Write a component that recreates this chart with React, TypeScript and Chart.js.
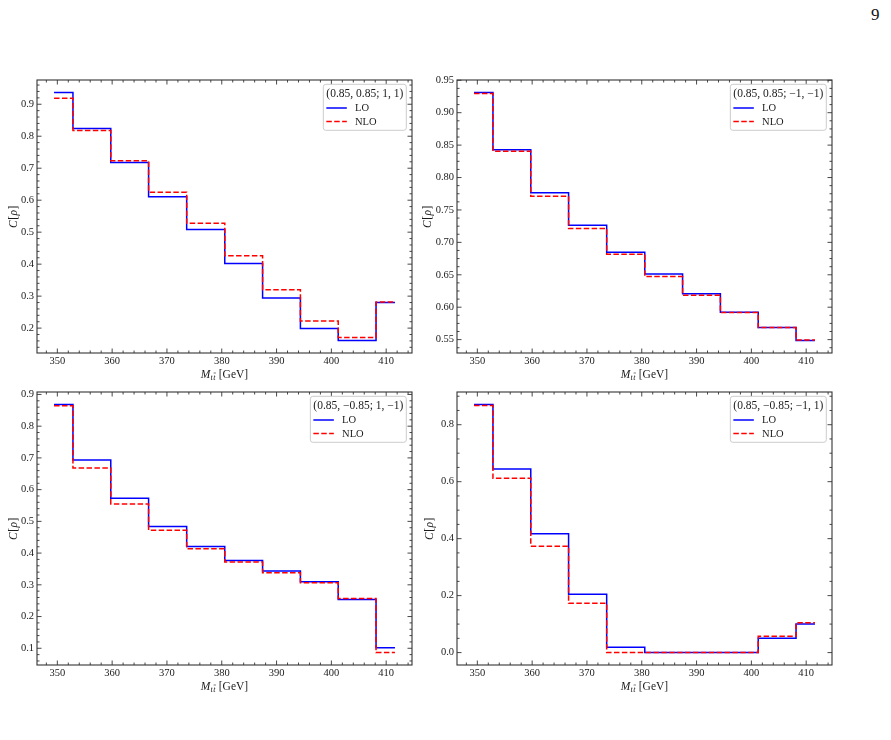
import React, { useEffect, useRef } from "react";
import { Chart, registerables } from "chart.js";

Chart.register(...registerables);

// Invariant-mass bin positions (GeV) shared by all four panels
const massBins = [349.4, 356.3, 363.2, 370.1, 377.1, 384.0, 390.9, 397.8, 404.7, 411.6];
const massTicks = [350, 360, 370, 380, 390, 400, 410];
const massMinorStep = 2;

const seriesNames = ["LO", "NLO"];

// (0.85, 0.85; 1, 1)
const loPP = [0.937, 0.824, 0.718, 0.611, 0.508, 0.402, 0.294, 0.199, 0.161, 0.28];
const nloPP = [0.919, 0.818, 0.723, 0.625, 0.528, 0.426, 0.32, 0.222, 0.171, 0.282];
const ticksPP = [0.2, 0.3, 0.4, 0.5, 0.6, 0.7, 0.8, 0.9];

// (0.85, 0.85; −1, −1)
const loPM = [0.9313, 0.843, 0.7767, 0.7264, 0.6847, 0.6513, 0.6206, 0.5923, 0.5685, 0.5485];
const nloPM = [0.9298, 0.8404, 0.7711, 0.7212, 0.6817, 0.6473, 0.6185, 0.5918, 0.5685, 0.5495];
const ticksPM = [0.55, 0.6, 0.65, 0.7, 0.75, 0.8, 0.85, 0.9, 0.95];

// (0.85, −0.85; 1, −1)
const loMP = [0.8686, 0.6932, 0.5727, 0.4838, 0.421, 0.377, 0.3435, 0.31, 0.2535, 0.102];
const nloMP = [0.8644, 0.668, 0.555, 0.4722, 0.4136, 0.372, 0.3383, 0.3068, 0.2566, 0.0864];
const ticksMP = [0.1, 0.2, 0.3, 0.4, 0.5, 0.6, 0.7, 0.8, 0.9];

// (0.85, −0.85; −1, 1)
const loMM = [0.8713, 0.6444, 0.417, 0.2047, 0.0187, 0, 0, 0, 0.0502, 0.1005];
const nloMM = [0.8678, 0.6117, 0.3737, 0.1729, 0, 0, 0, 0, 0.0572, 0.105];
const ticksMM = [0, 0.2, 0.4, 0.6, 0.8];

const SERIF = "'Liberation Serif', 'DejaVu Serif', serif";
const INK = "#1a1a1a";

type PanelProps = {
  title: string;
  lo: number[];
  nlo: number[];
  yTicks: number[];
  yMinorStep: number;
  decimals: number;
  left: number;
  top: number;
  yLabelGap: number;
};

function padRange(vals: number[]) {
  const lo = Math.min(...vals);
  const hi = Math.max(...vals);
  const m = (hi - lo) * 0.05;
  return [lo - m, hi + m];
}

function minorValues(min: number, max: number, step: number, majors: number[]) {
  const out: number[] = [];
  const start = Math.ceil(min / step - 1e-9);
  const end = Math.floor(max / step + 1e-9);
  for (let k = start; k <= end; k++) {
    const v = k * step;
    if (!majors.some((m) => Math.abs(m - v) < step * 1e-3)) out.push(v);
  }
  return out;
}

// Frame with inward ticks on all four sides, axis titles and the boxed legend
const paperAxes = {
  id: "paperAxes",
  afterDatasetsDraw(chart: any, _args: any, opts: any) {
    const { ctx, chartArea: a, scales } = chart;
    const xs = scales.x;
    const ys = scales.y;
    ctx.save();

    // ticks
    ctx.strokeStyle = "#333";
    ctx.lineWidth = 0.9;
    const majorLen = 4.5;
    const minorLen = 2.5;
    const tickX = (v: number, len: number) => {
      const p = xs.getPixelForValue(v);
      ctx.beginPath();
      ctx.moveTo(p, a.bottom);
      ctx.lineTo(p, a.bottom - len);
      ctx.moveTo(p, a.top);
      ctx.lineTo(p, a.top + len);
      ctx.stroke();
    };
    const tickY = (v: number, len: number) => {
      const p = ys.getPixelForValue(v);
      ctx.beginPath();
      ctx.moveTo(a.left, p);
      ctx.lineTo(a.left + len, p);
      ctx.moveTo(a.right, p);
      ctx.lineTo(a.right - len, p);
      ctx.stroke();
    };
    opts.xMajor.forEach((v: number) => tickX(v, majorLen));
    minorValues(xs.min, xs.max, opts.xMinorStep, opts.xMajor).forEach((v) => tickX(v, minorLen));
    opts.yMajor.forEach((v: number) => tickY(v, majorLen));
    minorValues(ys.min, ys.max, opts.yMinorStep, opts.yMajor).forEach((v) => tickY(v, minorLen));

    // frame
    ctx.lineWidth = 1.1;
    ctx.strokeRect(a.left, a.top, a.right - a.left, a.bottom - a.top);

    // x title: M_{t tbar} [GeV]
    ctx.fillStyle = INK;
    ctx.textBaseline = "alphabetic";
    ctx.textAlign = "left";
    const big = `italic 11.5px ${SERIF}`;
    const sub = `italic 8px ${SERIF}`;
    const rom = `11.5px ${SERIF}`;
    ctx.font = big;
    const wM = ctx.measureText("M").width;
    ctx.font = sub;
    const wT = ctx.measureText("t").width;
    ctx.font = rom;
    const wG = ctx.measureText(" [GeV]").width;
    const total = wM + 2 * wT + 1 + wG;
    let cx = (a.left + a.right) / 2 - total / 2;
    const base = a.bottom + 24.5;
    ctx.font = big;
    ctx.fillText("M", cx, base);
    cx += wM;
    ctx.font = sub;
    ctx.fillText("t", cx, base + 2.5);
    ctx.fillText("t", cx + wT + 0.5, base + 2.5);
    ctx.lineWidth = 0.6;
    ctx.strokeStyle = INK;
    ctx.beginPath();
    ctx.moveTo(cx + wT + 1, base - 4.5);
    ctx.lineTo(cx + 2 * wT + 1, base - 4.5);
    ctx.stroke();
    cx += 2 * wT + 1;
    ctx.font = rom;
    ctx.fillText(" [GeV]", cx, base);

    // y title: C[rho]
    ctx.save();
    ctx.translate(a.left - opts.yLabelGap, (a.top + a.bottom) / 2);
    ctx.rotate(-Math.PI / 2);
    const parts: [string, string][] = [
      ["C", big],
      ["[", rom],
      ["\u03c1", big],
      ["]", rom],
    ];
    let tw = 0;
    parts.forEach(([s, f]) => {
      ctx.font = f;
      tw += ctx.measureText(s).width + 0.5;
    });
    let px = -tw / 2;
    ctx.textBaseline = "middle";
    parts.forEach(([s, f]) => {
      ctx.font = f;
      ctx.fillText(s, px, 0);
      px += ctx.measureText(s).width + 0.5;
    });
    ctx.restore();

    // legend
    ctx.font = `11.5px ${SERIF}`;
    const titleW = ctx.measureText(opts.legendTitle).width;
    const boxW = titleW + 6;
    const boxH = 46;
    const bx = a.right - 5.7 - boxW;
    const by = a.top + 4.3;
    ctx.beginPath();
    ctx.roundRect(bx, by, boxW, boxH, 2.5);
    ctx.fillStyle = "rgba(255,255,255,0.85)";
    ctx.fill();
    ctx.strokeStyle = "#cccccc";
    ctx.lineWidth = 1;
    ctx.stroke();
    ctx.fillStyle = INK;
    ctx.textBaseline = "middle";
    ctx.textAlign = "left";
    ctx.fillText(opts.legendTitle, bx + 3, by + 9.3);
    const rows = opts.entries as { label: string; color: string; dash: number[] }[];
    rows.forEach((r, i) => {
      const yy = by + 23.7 + i * 13.5;
      ctx.strokeStyle = r.color;
      ctx.lineWidth = 1.5;
      ctx.setLineDash(r.dash);
      ctx.beginPath();
      ctx.moveTo(bx + 3, yy);
      ctx.lineTo(bx + 23.5, yy);
      ctx.stroke();
      ctx.setLineDash([]);
      ctx.font = `10.5px ${SERIF}`;
      ctx.fillStyle = INK;
      ctx.fillText(r.label, bx + 31.7, yy + 0.5);
    });

    ctx.restore();
  },
};

function Panel(p: PanelProps) {
  const ref = useRef<HTMLCanvasElement | null>(null);

  useEffect(() => {
    if (!ref.current) return;
    const [xMin, xMax] = padRange(massBins);
    const [yMin, yMax] = padRange([...p.lo, ...p.nlo]);
    const nloDash = [5.5, 2.4];
    const chart = new Chart(ref.current, {
      type: "line",
      data: {
        datasets: [
          {
            label: seriesNames[0],
            data: massBins.map((x, i) => ({ x, y: p.lo[i] })),
            borderColor: "#0000ff",
            borderWidth: 1.5,
            stepped: "middle",
            pointRadius: 0,
            fill: false,
            order: 1,
          },
          {
            label: seriesNames[1],
            data: massBins.map((x, i) => ({ x, y: p.nlo[i] })),
            borderColor: "#ff0000",
            borderWidth: 1.5,
            borderDash: nloDash,
            stepped: "middle",
            pointRadius: 0,
            fill: false,
            order: 0,
          },
        ],
      },
      options: {
        animation: false,
        responsive: false,
        maintainAspectRatio: false,
        devicePixelRatio: 1,
        layout: { padding: { top: 20, right: 8, bottom: 0, left: 0 } },
        plugins: {
          legend: { display: false },
          tooltip: { enabled: false },
          paperAxes: {
            xMajor: massTicks,
            xMinorStep: massMinorStep,
            yMajor: p.yTicks,
            yMinorStep: p.yMinorStep,
            yLabelGap: p.yLabelGap,
            legendTitle: p.title,
            entries: [
              { label: seriesNames[0], color: "#0000ff", dash: [] },
              { label: seriesNames[1], color: "#ff0000", dash: nloDash },
            ],
          },
        } as any,
        scales: {
          x: {
            type: "linear",
            min: xMin,
            max: xMax,
            grid: { display: false, drawTicks: false },
            border: { display: false },
            ticks: {
              font: { family: SERIF, size: 10.5 },
              color: INK,
              padding: 2,
              maxRotation: 0,
              autoSkip: false,
              callback: (v: any) => String(v),
            },
            afterBuildTicks: (ax: any) => {
              ax.ticks = massTicks.map((v) => ({ value: v }));
            },
            afterFit: (ax: any) => {
              ax.height = 37;
            },
          },
          y: {
            type: "linear",
            min: yMin,
            max: yMax,
            grid: { display: false, drawTicks: false },
            border: { display: false },
            ticks: {
              font: { family: SERIF, size: 10.5 },
              color: INK,
              padding: 3,
              autoSkip: false,
              callback: (v: any) => Number(v).toFixed(p.decimals),
            },
            afterBuildTicks: (ax: any) => {
              ax.ticks = p.yTicks.map((v) => ({ value: v }));
            },
            afterFit: (ax: any) => {
              ax.width = 37;
            },
          },
        },
      },
      plugins: [paperAxes],
    } as any);
    return () => chart.destroy();
  }, []);

  return (
    <canvas
      ref={ref}
      width={420}
      height={330}
      style={{ position: "absolute", left: p.left, top: p.top, width: 420, height: 330 }}
    />
  );
}

export default function App() {
  return (
    <div
      style={{
        position: "absolute",
        left: 0,
        top: 0,
        width: 891,
        height: 740,
        background: "#ffffff",
        overflow: "hidden",
      }}
    >
      <div
        style={{
          position: "absolute",
          left: 871,
          top: 5,
          fontFamily: SERIF,
          fontSize: 17,
          color: "#111",
        }}
      >
        9
      </div>
      <Panel title="(0.85, 0.85; 1, 1)" lo={loPP} nlo={nloPP} yTicks={ticksPP} yMinorStep={0.02} decimals={1} left={0} top={60} yLabelGap={23.4} />
      <Panel title={"(0.85, 0.85; \u22121, \u22121)"} lo={loPM} nlo={nloPM} yTicks={ticksPM} yMinorStep={0.0125} decimals={2} left={420} top={60} yLabelGap={29.3} />
      <Panel title={"(0.85, \u22120.85; 1, \u22121)"} lo={loMP} nlo={nloMP} yTicks={ticksMP} yMinorStep={0.02} decimals={1} left={0} top={372} yLabelGap={23.4} />
      <Panel title={"(0.85, \u22120.85; \u22121, 1)"} lo={loMM} nlo={nloMM} yTicks={ticksMM} yMinorStep={0.05} decimals={1} left={420} top={372} yLabelGap={27.3} />
    </div>
  );
}
